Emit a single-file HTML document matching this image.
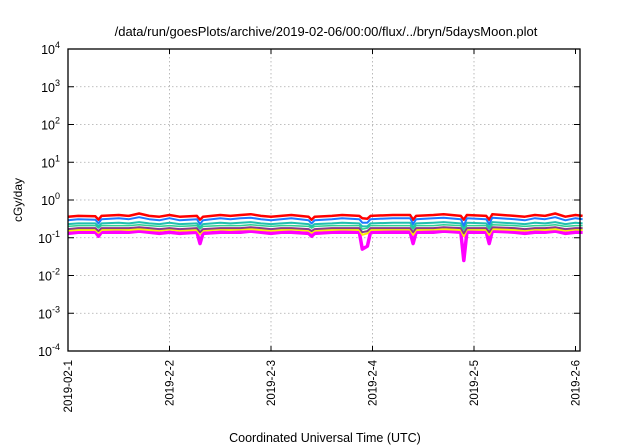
<!DOCTYPE html>
<html><head><meta charset="utf-8"><style>
body{margin:0;background:#fff;}
svg{display:block;font-family:"Liberation Sans",sans-serif;}
</style></head><body>
<svg id="chart" width="640" height="448">
<text x="326" y="36" text-anchor="middle" font-size="13">/data/run/goesPlots/archive/2019-02-06/00:00/flux/../bryn/5daysMoon.plot</text>
<text x="325" y="442" text-anchor="middle" font-size="12.5">Coordinated Universal Time (UTC)</text>
<text transform="translate(22,200) rotate(-90)" text-anchor="middle" font-size="12">cGy/day</text>
<g id="grid"></g><g id="series"></g><g id="axes"></g>
</svg>
<script>
const xTickLabels=["2019-02-1","2019-2-2","2019-2-3","2019-2-4","2019-2-5","2019-2-6"];
const yExponents=[-4,-3,-2,-1,0,1,2,3,4];
const days=[0,0.1,0.27,0.3,0.33,0.5,0.6,0.7,0.8,0.9,1.0,1.1,1.27,1.3,1.33,1.5,1.6,1.7,1.8,1.9,2.0,2.1,2.2,2.37,2.4,2.43,2.6,2.7,2.87,2.9,2.95,2.98,3.2,3.37,3.4,3.43,3.6,3.7,3.87,3.9,3.93,4.12,4.15,4.18,4.4,4.5,4.6,4.7,4.8,4.9,5.0,5.07];
const red=[0.36,0.38,0.37,0.30,0.38,0.40,0.38,0.44,0.38,0.36,0.40,0.36,0.38,0.30,0.36,0.40,0.38,0.40,0.42,0.38,0.36,0.38,0.40,0.36,0.30,0.36,0.38,0.40,0.38,0.33,0.32,0.38,0.40,0.40,0.30,0.38,0.40,0.42,0.38,0.30,0.40,0.38,0.30,0.42,0.38,0.36,0.40,0.38,0.44,0.36,0.40,0.38];
const blue=[0.29,0.31,0.30,0.24,0.31,0.33,0.31,0.35,0.31,0.29,0.33,0.29,0.31,0.23,0.29,0.33,0.31,0.33,0.34,0.31,0.29,0.31,0.33,0.29,0.24,0.29,0.31,0.33,0.31,0.25,0.25,0.31,0.33,0.33,0.23,0.31,0.33,0.34,0.31,0.21,0.33,0.31,0.23,0.34,0.31,0.29,0.33,0.31,0.35,0.29,0.33,0.31];
const teal=[0.23,0.24,0.24,0.20,0.24,0.25,0.24,0.26,0.24,0.23,0.25,0.23,0.24,0.19,0.23,0.25,0.24,0.25,0.26,0.24,0.23,0.24,0.25,0.23,0.20,0.23,0.24,0.25,0.24,0.20,0.20,0.24,0.25,0.25,0.19,0.24,0.25,0.26,0.24,0.18,0.25,0.24,0.19,0.26,0.24,0.23,0.25,0.24,0.26,0.23,0.25,0.24];
const green=[0.20,0.21,0.21,0.18,0.21,0.21,0.21,0.22,0.21,0.20,0.21,0.20,0.21,0.17,0.20,0.21,0.21,0.21,0.22,0.21,0.20,0.21,0.21,0.20,0.18,0.20,0.21,0.21,0.21,0.17,0.18,0.21,0.21,0.21,0.17,0.21,0.21,0.22,0.21,0.16,0.21,0.21,0.17,0.22,0.21,0.20,0.21,0.21,0.22,0.20,0.21,0.21];
const purple=[0.17,0.18,0.18,0.15,0.18,0.18,0.18,0.19,0.18,0.17,0.18,0.17,0.18,0.14,0.17,0.18,0.18,0.18,0.19,0.18,0.17,0.18,0.18,0.17,0.15,0.17,0.18,0.18,0.18,0.14,0.15,0.18,0.18,0.18,0.14,0.18,0.18,0.19,0.18,0.13,0.18,0.18,0.14,0.19,0.18,0.17,0.18,0.18,0.19,0.17,0.18,0.18];
const yellow=[0.155,0.16,0.16,0.135,0.16,0.165,0.16,0.17,0.16,0.155,0.165,0.155,0.16,0.125,0.155,0.165,0.16,0.165,0.17,0.16,0.155,0.16,0.165,0.155,0.135,0.155,0.16,0.165,0.16,0.12,0.13,0.16,0.165,0.165,0.12,0.16,0.165,0.17,0.16,0.11,0.165,0.16,0.12,0.17,0.16,0.155,0.165,0.16,0.17,0.155,0.165,0.16];
const magenta=[0.13,0.14,0.14,0.11,0.14,0.14,0.14,0.15,0.14,0.13,0.14,0.13,0.14,0.07,0.13,0.14,0.14,0.14,0.15,0.14,0.13,0.14,0.14,0.13,0.11,0.13,0.14,0.14,0.14,0.05,0.06,0.14,0.14,0.14,0.07,0.14,0.14,0.15,0.14,0.025,0.14,0.14,0.07,0.15,0.14,0.13,0.14,0.14,0.15,0.13,0.14,0.14];
const L=68,R=580,T=49,B=351,PX_DAY=101.5;
const xs=d=>L+d*PX_DAY;
const ys=v=>T+(4-Math.log10(v))*(B-T)/8;
const NS="http://www.w3.org/2000/svg";
function mk(tag,attrs,parent){const e=document.createElementNS(NS,tag);for(const k in attrs)e.setAttribute(k,attrs[k]);parent.appendChild(e);return e;}
const grid=document.getElementById('grid'),axes=document.getElementById('axes'),ser=document.getElementById('series');
xTickLabels.forEach((lab,i)=>{
 const x=xs(i);
 if(i>0&&i<5){const g=mk('line',{x1:x,x2:x,y1:T,y2:B,stroke:'#aaa','stroke-width':0.8,'stroke-dasharray':'1.5,2.5'},grid);
 
 }
 const tk=mk('line',{x1:x,x2:x,y1:B,y2:B-5,stroke:'#000','stroke-width':1},axes);
 
 
 const tk2=mk('line',{x1:x,x2:x,y1:T,y2:T+5,stroke:'#000','stroke-width':1},axes);
 
 
 const t=mk('text',{transform:`translate(${x+4},${B+9}) rotate(-90)`,'text-anchor':'end','font-size':11.5},axes);
 t.textContent=lab;
 
 
});
yExponents.forEach(e=>{
 const y=ys(Math.pow(10,e));
 if(e>-4&&e<4){const g=mk('line',{x1:L,x2:R,y1:y,y2:y,stroke:'#aaa','stroke-width':0.8,'stroke-dasharray':'1.5,2.5'},grid);
 
 }
 const tk=mk('line',{x1:L,x2:L+6,y1:y,y2:y,stroke:'#000'},axes);
 
 
 const tk2=mk('line',{x1:R-6,x2:R,y1:y,y2:y,stroke:'#000'},axes);
 
 
 const t=mk('text',{x:L-8,y:y+5,'text-anchor':'end','font-size':12.5},axes);
 t.innerHTML='10<tspan dy="-6" font-size="9">'+e+'</tspan>';
 
 
});
const fr=mk('rect',{x:L,y:T,width:R-L,height:B-T,fill:'none',stroke:'#000','stroke-width':1.3},axes);


const seriesList=[[magenta,'#ff00ff','magenta',3.5],[yellow,'#ffee00','yellow',2],[purple,'#8a3a8a','purple',2],[green,'#2fd090','green',1.5],[teal,'#20c0b0','teal',2],[red,'#ff0000','red',2.5],[blue,'#1e78ff','blue',2]];
seriesList.forEach(([vals,col,nm,w])=>{
 const d=vals.map((v,i)=>(i?'L':'M')+xs(days[i]).toFixed(1)+','+ys(v).toFixed(1)).join('');
 const p=mk('path',{d:d,fill:'none',stroke:col,'stroke-width':w,'stroke-linejoin':'round'},ser);
 
 
});
</script>
</body></html>
